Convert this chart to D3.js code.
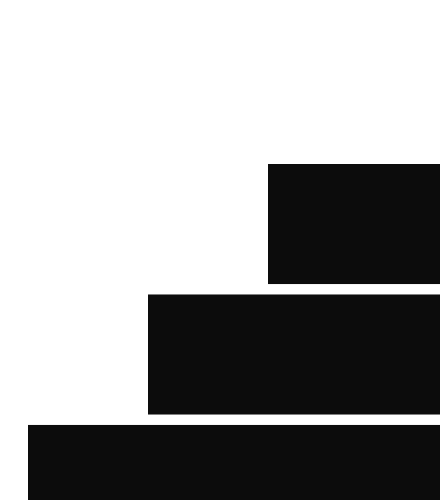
<!DOCTYPE html>
<html>
<head>
<meta charset="utf-8">
<script src="https://cdn.jsdelivr.net/npm/d3@7"></script>
<style>
  html, body { margin: 0; padding: 0; background: #fff; overflow: hidden; }
</style>
</head>
<body>
<div id="chart"></div>
<script>
// Three steps of the pyramid, top to bottom
const categories = ["top", "middle", "bottom"];
const values = [2, 3, 4];

const width = 440;
const height = 500;

const svg = d3.select("#chart")
    .append("svg")
    .attr("width", width)
    .attr("height", height);

// Bars grow leftwards from beyond the right edge
const x = d3.scaleLinear()
    .domain([0, 4])
    .range([508, 28]);

const y = d3.scaleBand()
    .domain(categories)
    .range([164, 545])
    .paddingInner(0.08)
    .paddingOuter(0);

svg.selectAll(".bar")
    .data(categories)
    .enter()
    .append("rect")
    .attr("class", "bar")
    .attr("x", (d, i) => x(values[i]))
    .attr("y", d => y(d))
    .attr("width", (d, i) => x(0) - x(values[i]))
    .attr("height", y.bandwidth())
    .attr("fill", "#0c0c0c");
</script>
</body>
</html>
